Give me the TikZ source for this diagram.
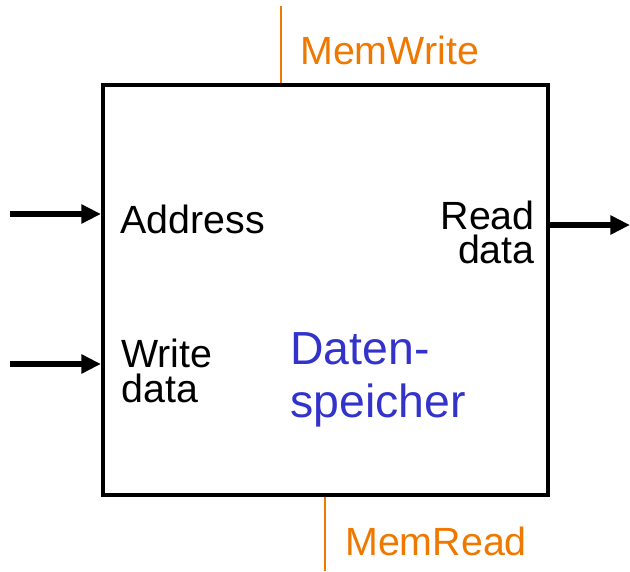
\documentclass[tikz,border=0pt]{standalone}
\usepackage{fontspec}
\setmainfont{Liberation Sans}
\usetikzlibrary{arrows.meta}
\definecolor{ctrlorange}{RGB}{238,120,0}
\definecolor{unitblue}{RGB}{51,51,204}
\tikzset{
  sig/.style={line width=4.6pt,-{Triangle[length=14pt,width=13pt]}},
  ctrl/.style={line width=2pt,color=ctrlorange},
  port/.style={anchor=base west,inner sep=0pt,align=left,font=\fontsize{28}{23.5}\selectfont},
  ctrllabel/.style={anchor=base west,inner sep=0pt,text=ctrlorange,font=\fontsize{28}{28}\selectfont}
}
\begin{document}
\begin{tikzpicture}[x=0.025cm,y=-0.025cm]
\useasboundingbox (0,0) rectangle (630,571);
% memory block
\node[draw,line width=2.8pt,minimum width=11.125cm,minimum height=10.25cm,inner sep=0pt] (mem) at (325.5,290) {};
% ports
\node[port] (addr) at (120,233) {Address};
\node[port,align=right,anchor=base east] (rd) at (535,263) {Read\\data};
\node[port,font=\fontsize{28}{24.8}\selectfont] (wd) at (121,402) {Write\\data};
\node[anchor=base west,inner sep=0pt,align=left,text=unitblue,font=\fontsize{33}{37}\selectfont] (name) at (290,417) {Daten-\\speicher};
% data signals
\coordinate (addrin) at (10,214);
\coordinate (wdin) at (10,364);
\coordinate (rdout) at (630,225);
\draw[sig] (addrin) -- (mem.west |- addrin);
\draw[sig] (wdin) -- (mem.west |- wdin);
\draw[sig] (mem.east |- rdout) -- (rdout);
% control signals
\coordinate (mwtop) at (281,6);
\coordinate (mrbot) at (325,571);
\draw[ctrl] (mwtop) -- (mem.north -| mwtop);
\draw[ctrl] (mem.south -| mrbot) -- (mrbot);
\node[ctrllabel] (mw) at (300,65) {MemWrite};
\node[ctrllabel] (mr) at (345,555) {MemRead};
\end{tikzpicture}
\end{document}
